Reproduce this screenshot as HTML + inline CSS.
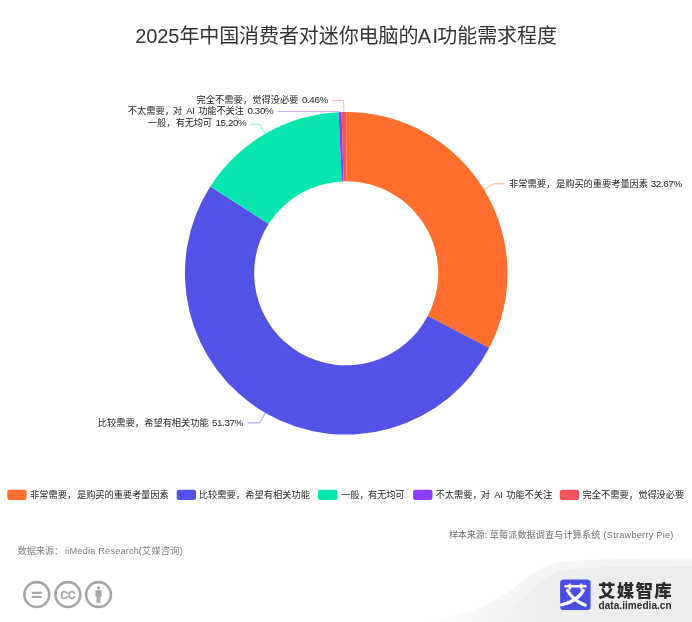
<!DOCTYPE html>
<html lang="zh-CN"><head><meta charset="utf-8"><title>2025年中国消费者对迷你电脑的AI功能需求程度</title>
<style>
html,body{margin:0;padding:0;background:#fff;}
body{width:692px;height:622px;overflow:hidden;position:relative;font-family:"Liberation Sans","Noto Sans CJK SC",sans-serif;}
svg{position:absolute;left:0;top:0;display:block}
text{font-family:"Liberation Sans","Noto Sans CJK SC",sans-serif;white-space:pre}
</style></head><body>
<svg width="692" height="622" viewBox="0 0 692 622">
<defs>
<linearGradient id="sw1" x1="0" y1="0" x2="1" y2="0"><stop offset="0" stop-color="#fcfcfc"/><stop offset="0.22" stop-color="#f5f5f5"/><stop offset="1" stop-color="#f4f4f4"/></linearGradient>
<linearGradient id="sw2" x1="0" y1="0" x2="1" y2="0"><stop offset="0" stop-color="#f5f5f5"/><stop offset="0.3" stop-color="#ededed"/><stop offset="1" stop-color="#ececec"/></linearGradient>
</defs>
<rect width="692" height="622" fill="#fff"/>
<!-- corner swoosh -->
<path d="M430 622 C 470 613 492 603 512.5 589 C 530 576 540 566 560 562 C 600 558 650 559 692 558.5 L692 622Z" fill="url(#sw1)"/>
<path d="M492 622 C 505 614 515 606 524 598 C 536 586 545 576 558 571.5 C 580 566 640 567 692 566 L692 622Z" fill="url(#sw2)"/>
<path d="M346.20 112.00A161.3 161.3 0 0 1 489.13 348.06L427.72 315.94A92.0 92.0 0 0 0 346.20 181.30Z" fill="#FF6E2D"/>
<path d="M489.13 348.06A161.3 161.3 0 1 1 210.23 186.53L268.65 223.81A92.0 92.0 0 1 0 427.72 315.94Z" fill="#5252E6"/>
<path d="M210.23 186.53A161.3 161.3 0 0 1 338.50 112.18L341.81 181.40A92.0 92.0 0 0 0 268.65 223.81Z" fill="#08E6AF"/>
<path d="M338.50 112.18A161.3 161.3 0 0 1 341.54 112.07L343.54 181.34A92.0 92.0 0 0 0 341.81 181.40Z" fill="#8B3CF7"/>
<path d="M341.54 112.07A161.3 161.3 0 0 1 346.20 112.00L346.20 181.30A92.0 92.0 0 0 0 343.54 181.34Z" fill="#F4535E"/>
<!-- label lines -->
<g fill="none" stroke-width="0.8" stroke-opacity="0.72">
<polyline points="484.2,189.7 493.7,183.8 504.6,183.8" stroke="#FF6E2D"/>
<polyline points="265.4,412.9 259.6,422.9 247.9,422.9" stroke="#5252E6"/>
<polyline points="265.3,133.7 259.8,124.2 251,124.2" stroke="#08E6AF"/>
<polyline points="340,112.1 339.7,111.5 277.9,111.5" stroke="#8B3CF7" stroke-opacity="0.5"/>
<polyline points="343.9,112 343.5,100.4 332.1,100.4" stroke="#F4535E" stroke-opacity="0.55"/>
</g>
<!-- legend icons -->
<rect x="7.2" y="489.7" width="19.4" height="10.3" rx="2.2" fill="#FF6E2D"/>
<rect x="176.7" y="489.7" width="19.4" height="10.3" rx="2.2" fill="#5252E6"/>
<rect x="318.0" y="489.7" width="19.4" height="10.3" rx="2.2" fill="#08E6AF"/>
<rect x="413.1" y="489.7" width="19.4" height="10.3" rx="2.2" fill="#8B3CF7"/>
<rect x="559.8" y="489.7" width="19.4" height="10.3" rx="2.2" fill="#F4535E"/>
<!-- texts -->
<text y="42.90" font-size="20" fill="#333"><tspan x="135.25" letter-spacing="-0.09">2025年中国消费者对迷你电脑的</tspan><tspan x="417.75" letter-spacing="1.45">AI</tspan><tspan x="437.25" letter-spacing="-0.06">功能需求程度</tspan></text>
<text y="187.00" font-size="9.25" fill="#1c1c1c"><tspan x="509.00">非常需要，</tspan><tspan x="556.00" letter-spacing="-0.05">是购买的重要考量因素 </tspan><tspan x="650.75" letter-spacing="-0.34" font-size="9.8">32.67%</tspan></text>
<text y="426.00" font-size="9.25" fill="#1c1c1c"><tspan x="97.75">比较需要，</tspan><tspan x="144.25" letter-spacing="-0.06">希望有相关功能 </tspan><tspan x="212.00" letter-spacing="-0.38" font-size="9.8">51.37%</tspan></text>
<text y="126.20" font-size="9.25" fill="#1c1c1c"><tspan x="147.75">一般，</tspan><tspan x="175.75" letter-spacing="-0.27">有无均可 </tspan><tspan x="215.50" letter-spacing="-0.39" font-size="9.8">15.20%</tspan></text>
<text y="113.70" font-size="9.25" fill="#1c1c1c"><tspan x="127.75">不太需要，</tspan><tspan x="172.75">对 </tspan><tspan x="186.25" letter-spacing="-0.20">AI </tspan><tspan x="198.25" letter-spacing="-0.14">功能不关注 </tspan><tspan x="247.50" letter-spacing="-0.41" font-size="9.8">0.30%</tspan></text>
<text y="103.35" font-size="9.25" fill="#1c1c1c"><tspan x="196.50">完全不需要，</tspan><tspan x="252.25">觉得没必要 </tspan><tspan x="302.00" letter-spacing="-0.40" font-size="9.8">0.46%</tspan></text>
<text y="497.55" font-size="9.25" fill="#1c1c1c"><tspan x="30.00">非常需要，</tspan><tspan x="77.00" letter-spacing="-0.09">是购买的重要考量因素</tspan></text>
<text y="497.55" font-size="9.25" fill="#1c1c1c"><tspan x="198.75">比较需要，</tspan><tspan x="245.25">希望有相关功能</tspan></text>
<text y="497.55" font-size="9.25" fill="#1c1c1c"><tspan x="341.00">一般，</tspan><tspan x="368.00" letter-spacing="-0.15">有无均可</tspan></text>
<text y="497.55" font-size="9.25" fill="#1c1c1c"><tspan x="435.50">不太需要，</tspan><tspan x="480.75">对 </tspan><tspan x="494.25" letter-spacing="-0.20">AI </tspan><tspan x="506.25" letter-spacing="-0.08">功能不关注</tspan></text>
<text y="497.55" font-size="9.25" fill="#1c1c1c"><tspan x="582.50">完全不需要，</tspan><tspan x="638.25" letter-spacing="-0.08">觉得没必要</tspan></text>
<text y="537.50" font-size="9.15" fill="#6e6e6e"><tspan x="449.00" letter-spacing="-0.26">样本来源: </tspan><tspan x="489.75" letter-spacing="0.10">草莓派数据调查与计算系统 </tspan><tspan x="603.50" letter-spacing="0.26">(Strawberry Pie)</tspan></text>
<text y="553.65" font-size="9.15" fill="#7c7c7c"><tspan x="17.50">数据来源：</tspan><tspan x="65.00" letter-spacing="0.23">iiMedia Research</tspan><tspan x="138.75" letter-spacing="0.27">(艾媒咨询)</tspan></text>
<text y="596.60" font-size="17.5" fill="#2b2b2b" font-weight="900"><tspan x="598.00" letter-spacing="1.25">艾媒智库</tspan></text>
<text y="609.15" font-size="10" fill="#2b2b2b" font-weight="bold"><tspan x="598.50" letter-spacing="0.06">data.iimedia.cn</tspan></text>
<!-- cc icons -->
<g fill="none" stroke="#a6a6a6" stroke-width="2.6">
<circle cx="36.8" cy="594.6" r="12.45"/>
<circle cx="67.9" cy="594.6" r="12.45"/>
<circle cx="98.5" cy="594.6" r="12.45"/>
</g>
<g fill="#a6a6a6">
<rect x="31.8" y="591.7" width="10" height="2.3"/>
<rect x="31.8" y="595.8" width="10" height="2.3"/>
<circle cx="98.5" cy="587.8" r="1.6"/>
<path d="M95.4 590.3h6.2v6.2h-1.2v6.2h-3.8v-6.2h-1.2z"/>
</g>
<text x="67.7" y="598.8" font-size="15.4" fill="#a6a6a6" stroke="#a6a6a6" stroke-width="0.55" text-anchor="middle" letter-spacing="-0.2">cc</text>
<!-- logo -->
<rect x="560.1" y="579.5" width="30.5" height="30.5" rx="3.6" fill="#4A4FE3"/>
<g fill="none" stroke="#fff" stroke-linecap="round">
<path d="M565.6 586.3H585.4" stroke-width="2.6"/>
<path d="M569.8 584.6V588.6M581.3 584.6V588.6" stroke-width="2.4"/>
<path d="M567.5 590.6C571 597 578 602.5 585.3 605.2" stroke-width="3.2"/>
<path d="M583.3 590.6C579 598 571 602.6 561.6 604.9" stroke-width="3.2"/>
</g>
</svg>
</body></html>
